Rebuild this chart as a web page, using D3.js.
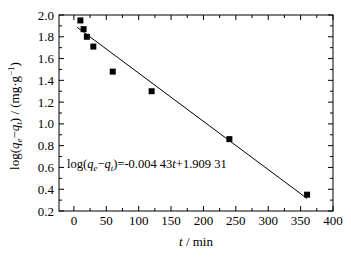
<!DOCTYPE html>
<html><head><meta charset="utf-8">
<script src="https://cdn.jsdelivr.net/npm/d3@7"></script>
<style>body{margin:0;background:#fff}svg{display:block}text{font-family:"Liberation Serif","Times New Roman",serif;fill:#000}</style>
</head><body>
<svg id="c" width="351" height="258"></svg>
<script>
const times = [10, 15, 20, 30, 60, 120, 240, 360];
const logValues = [1.95, 1.87, 1.80, 1.71, 1.48, 1.30, 0.86, 0.35];
const xTicks = [0, 50, 100, 150, 200, 250, 300, 350, 400];
const yTicks = [0.2, 0.4, 0.6, 0.8, 1.0, 1.2, 1.4, 1.6, 1.8, 2.0];
const fitSlope = -0.00443, fitIntercept = 1.90931;
const fitRange = [5, 360];

const svg = d3.select("#c");
const L = 59, R = 333, T = 15, B = 211;
const x = d3.scaleLinear().domain([-23, 400]).range([L, R]);
const y = d3.scaleLinear().domain([0.2, 2.0]).range([B, T]);

const g = svg.append("g");
g.append("rect").attr("x", L).attr("y", T).attr("width", R - L).attr("height", B - T)
  .attr("fill", "none").attr("stroke", "#000").attr("stroke-width", 1);

const xMinor = d3.range(-25, 401, 25).filter(v => v > -23);
const yMinor = d3.range(0.2, 2.001, 0.1);
xMinor.forEach(v => {
  const major = xTicks.includes(v);
  const len = major ? 5 : 3;
  g.append("line").attr("x1", x(v)).attr("x2", x(v)).attr("y1", B).attr("y2", B - len).attr("stroke", "#000");
  g.append("line").attr("x1", x(v)).attr("x2", x(v)).attr("y1", T).attr("y2", T + len).attr("stroke", "#000");
});
yMinor.forEach((v, i) => {
  const major = i % 2 === 0;
  const len = major ? 5 : 3;
  g.append("line").attr("x1", L).attr("x2", L + len).attr("y1", y(v)).attr("y2", y(v)).attr("stroke", "#000");
  g.append("line").attr("x1", R).attr("x2", R - len).attr("y1", y(v)).attr("y2", y(v)).attr("stroke", "#000");
});
xTicks.forEach(v => {
  g.append("text").attr("x", x(v)).attr("y", 225).attr("text-anchor", "middle")
    .attr("font-size", 13).text(v);
});
yTicks.forEach(v => {
  g.append("text").attr("x", 54).attr("y", y(v) + 4.5).attr("text-anchor", "end")
    .attr("font-size", 13).text(v.toFixed(1));
});

g.append("line")
  .attr("x1", x(fitRange[0])).attr("y1", y(fitIntercept + fitSlope * fitRange[0]))
  .attr("x2", x(fitRange[1])).attr("y2", y(fitIntercept + fitSlope * fitRange[1]))
  .attr("stroke", "#000").attr("stroke-width", 1);

g.selectAll("rect.pt").data(times).enter().append("rect").attr("class", "pt")
  .attr("x", (d) => x(d) - 3).attr("y", (d, i) => y(logValues[i]) - 3)
  .attr("width", 6).attr("height", 6).attr("fill", "#000");

const eq = g.append("text").attr("x", 67).attr("y", 167.5).attr("font-size", 12.5);
eq.append("tspan").text("log(");
eq.append("tspan").attr("font-style", "italic").text("q");
eq.append("tspan").attr("font-style", "italic").attr("font-size", 9).attr("dy", 3).text("e");
eq.append("tspan").attr("dy", -3).text("−");
eq.append("tspan").attr("font-style", "italic").text("q");
eq.append("tspan").attr("font-style", "italic").attr("font-size", 9).attr("dy", 3).text("t");
eq.append("tspan").attr("dy", -3).text(")=-0.004 43");
eq.append("tspan").attr("font-style", "italic").text("t");
eq.append("tspan").text("+1.909 31");

const xl = svg.append("text").attr("x", 196).attr("y", 246).attr("text-anchor", "middle").attr("font-size", 13);
xl.append("tspan").attr("font-style", "italic").text("t");
xl.append("tspan").text(" / min");

const yl = svg.append("text").attr("transform", "translate(19,116) rotate(-90)").attr("text-anchor", "middle").attr("font-size", 13);
yl.append("tspan").text("log(");
yl.append("tspan").attr("font-style", "italic").text("q");
yl.append("tspan").attr("font-style", "italic").attr("font-size", 9).attr("dy", 3).text("e");
yl.append("tspan").attr("dy", -3).text("−");
yl.append("tspan").attr("font-style", "italic").text("q");
yl.append("tspan").attr("font-style", "italic").attr("font-size", 9).attr("dy", 3).text("t");
yl.append("tspan").attr("dy", -3).text(") / (mg·g");
yl.append("tspan").attr("font-size", 9).attr("dy", -5).text("−1");
yl.append("tspan").attr("dy", 5).text(")");
</script>
</body></html>
